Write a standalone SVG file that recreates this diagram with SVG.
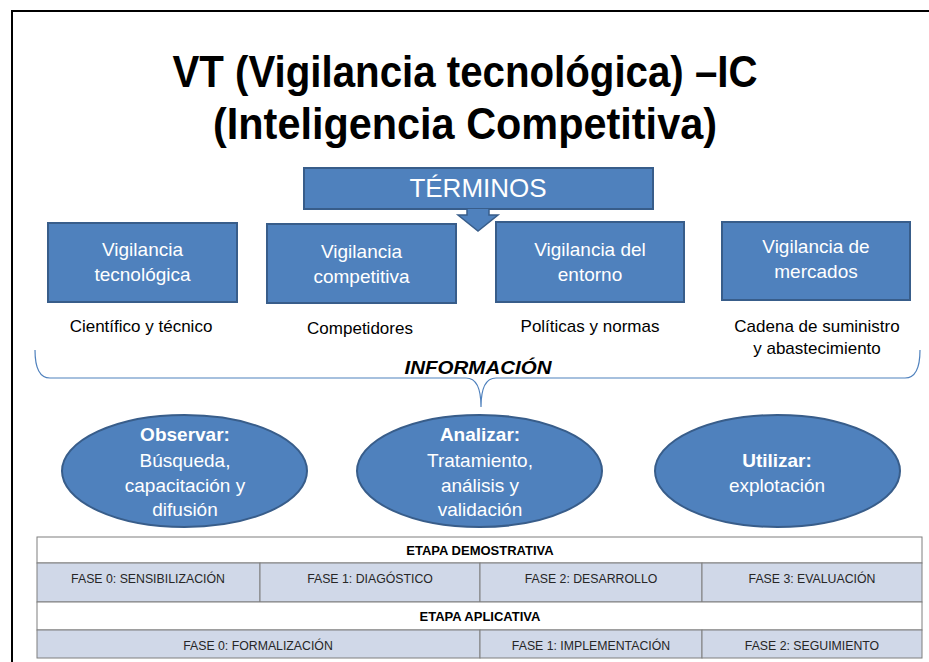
<svg xmlns="http://www.w3.org/2000/svg" width="929" height="662" viewBox="0 0 929 662">
<defs>
<style>
.title{font-family:"Liberation Sans",Arial,sans-serif;font-weight:bold;font-size:45px;fill:#000;text-anchor:middle}
.box{fill:#4F81BD;stroke:#385D8A;stroke-width:2}
.bt{font-family:"Liberation Sans",Arial,sans-serif;font-size:19px;fill:#fff;text-anchor:middle}
.bb{font-weight:bold}
.lab{font-family:"Liberation Sans",Arial,sans-serif;font-size:17px;fill:#000;text-anchor:middle}
.info{font-family:"Liberation Sans",Arial,sans-serif;font-size:19px;font-weight:bold;font-style:italic;fill:#000;text-anchor:middle}
.cellw{fill:#fff;stroke:#7F7F7F;stroke-width:1}
.cellb{fill:#D0D8E8;stroke:#7F7F7F;stroke-width:1}
.th{font-family:"Liberation Sans",Arial,sans-serif;font-size:13px;font-weight:bold;fill:#000;text-anchor:middle}
.td{font-family:"Liberation Sans",Arial,sans-serif;font-size:12.3px;fill:#262626;text-anchor:middle}
</style>
</defs>
<rect width="929" height="662" fill="#fff"/>
<path d="M12,662 V11 H929" fill="none" stroke="#000" stroke-width="2"/>

<g id="title">
<text class="title" x="465" y="87" textLength="585" lengthAdjust="spacingAndGlyphs">VT (Vigilancia tecnológica) –IC</text>
<text class="title" x="465" y="139" textLength="504" lengthAdjust="spacingAndGlyphs">(Inteligencia Competitiva)</text>
</g>

<g id="terminos">
<rect class="box" x="304" y="168" width="349" height="41"/>
<text x="478" y="197" font-family="Liberation Sans, Arial, sans-serif" font-size="26" fill="#fff" text-anchor="middle">TÉRMINOS</text>
</g>

<g id="connectors">
<path d="M467,209 V215 H458 L478,231 L498,215 H489 V209" fill="#4F81BD" stroke="#385D8A" stroke-width="1.5"/>
<path d="M35,350 Q35,378 50,378 L466,378 Q481,378 481,407 Q481,378 496,378 L905,378 Q920,378 920,350" fill="none" stroke="#4F81BD" stroke-width="1.2"/>
</g>

<g id="vt">
<rect class="box" x="48" y="223" width="189" height="79"/>
<text class="bt" x="142.5" y="256">Vigilancia</text>
<text class="bt" x="142.5" y="281">tecnológica</text>
</g>
<g id="vc">
<rect class="box" x="267" y="224" width="189" height="79"/>
<text class="bt" x="361.5" y="258">Vigilancia</text>
<text class="bt" x="361.5" y="283">competitiva</text>
</g>
<g id="ve">
<rect class="box" x="496" y="222" width="188" height="80"/>
<text class="bt" x="590" y="256">Vigilancia del</text>
<text class="bt" x="590" y="281">entorno</text>
</g>
<g id="vm">
<rect class="box" x="722" y="222" width="188" height="78"/>
<text class="bt" x="816" y="253">Vigilancia de</text>
<text class="bt" x="816" y="278">mercados</text>
</g>

<g id="labels">
<text class="lab" x="141" y="332">Científico y técnico</text>
<text class="lab" x="360" y="334">Competidores</text>
<text class="lab" x="590" y="332">Políticas y normas</text>
<text class="lab" x="817" y="332">Cadena de suministro</text>
<text class="lab" x="817" y="354">y abastecimiento</text>
<text class="info" x="478" y="374" textLength="147" lengthAdjust="spacingAndGlyphs">INFORMACIÓN</text>
</g>

<g id="observar">
<ellipse class="box" cx="184.5" cy="471" rx="122.5" ry="56"/>
<text class="bt bb" x="185" y="441">Observar:</text>
<text class="bt" x="185" y="467">Búsqueda,</text>
<text class="bt" x="185" y="492">capacitación y</text>
<text class="bt" x="185" y="516">difusión</text>
</g>
<g id="analizar">
<ellipse class="box" cx="479.5" cy="471" rx="122.5" ry="56"/>
<text class="bt bb" x="480" y="441">Analizar:</text>
<text class="bt" x="480" y="467">Tratamiento,</text>
<text class="bt" x="480" y="492">análisis y</text>
<text class="bt" x="480" y="516">validación</text>
</g>
<g id="utilizar">
<ellipse class="box" cx="777.5" cy="471" rx="122.5" ry="56"/>
<text class="bt bb" x="777" y="467">Utilizar:</text>
<text class="bt" x="777" y="492">explotación</text>
</g>

<g id="table">
<rect class="cellw" x="37" y="537" width="885" height="26"/>
<rect class="cellb" x="37" y="563" width="223" height="39"/>
<rect class="cellb" x="260" y="563" width="220" height="39"/>
<rect class="cellb" x="480" y="563" width="222" height="39"/>
<rect class="cellb" x="702" y="563" width="220" height="39"/>
<rect class="cellw" x="37" y="602" width="885" height="28"/>
<rect class="cellb" x="37" y="630" width="443" height="28"/>
<rect class="cellb" x="480" y="630" width="222" height="28"/>
<rect class="cellb" x="702" y="630" width="220" height="28"/>
<text class="th" x="480" y="555">ETAPA DEMOSTRATIVA</text>
<text class="td" x="148" y="583">FASE 0: SENSIBILIZACIÓN</text>
<text class="td" x="370" y="583">FASE 1: DIAGÓSTICO</text>
<text class="td" x="591" y="583">FASE 2: DESARROLLO</text>
<text class="td" x="812" y="583">FASE 3: EVALUACIÓN</text>
<text class="th" x="480" y="621">ETAPA APLICATIVA</text>
<text class="td" x="258" y="650">FASE 0: FORMALIZACIÓN</text>
<text class="td" x="591" y="650">FASE 1: IMPLEMENTACIÓN</text>
<text class="td" x="812" y="650">FASE 2: SEGUIMIENTO</text>
</g>
</svg>
